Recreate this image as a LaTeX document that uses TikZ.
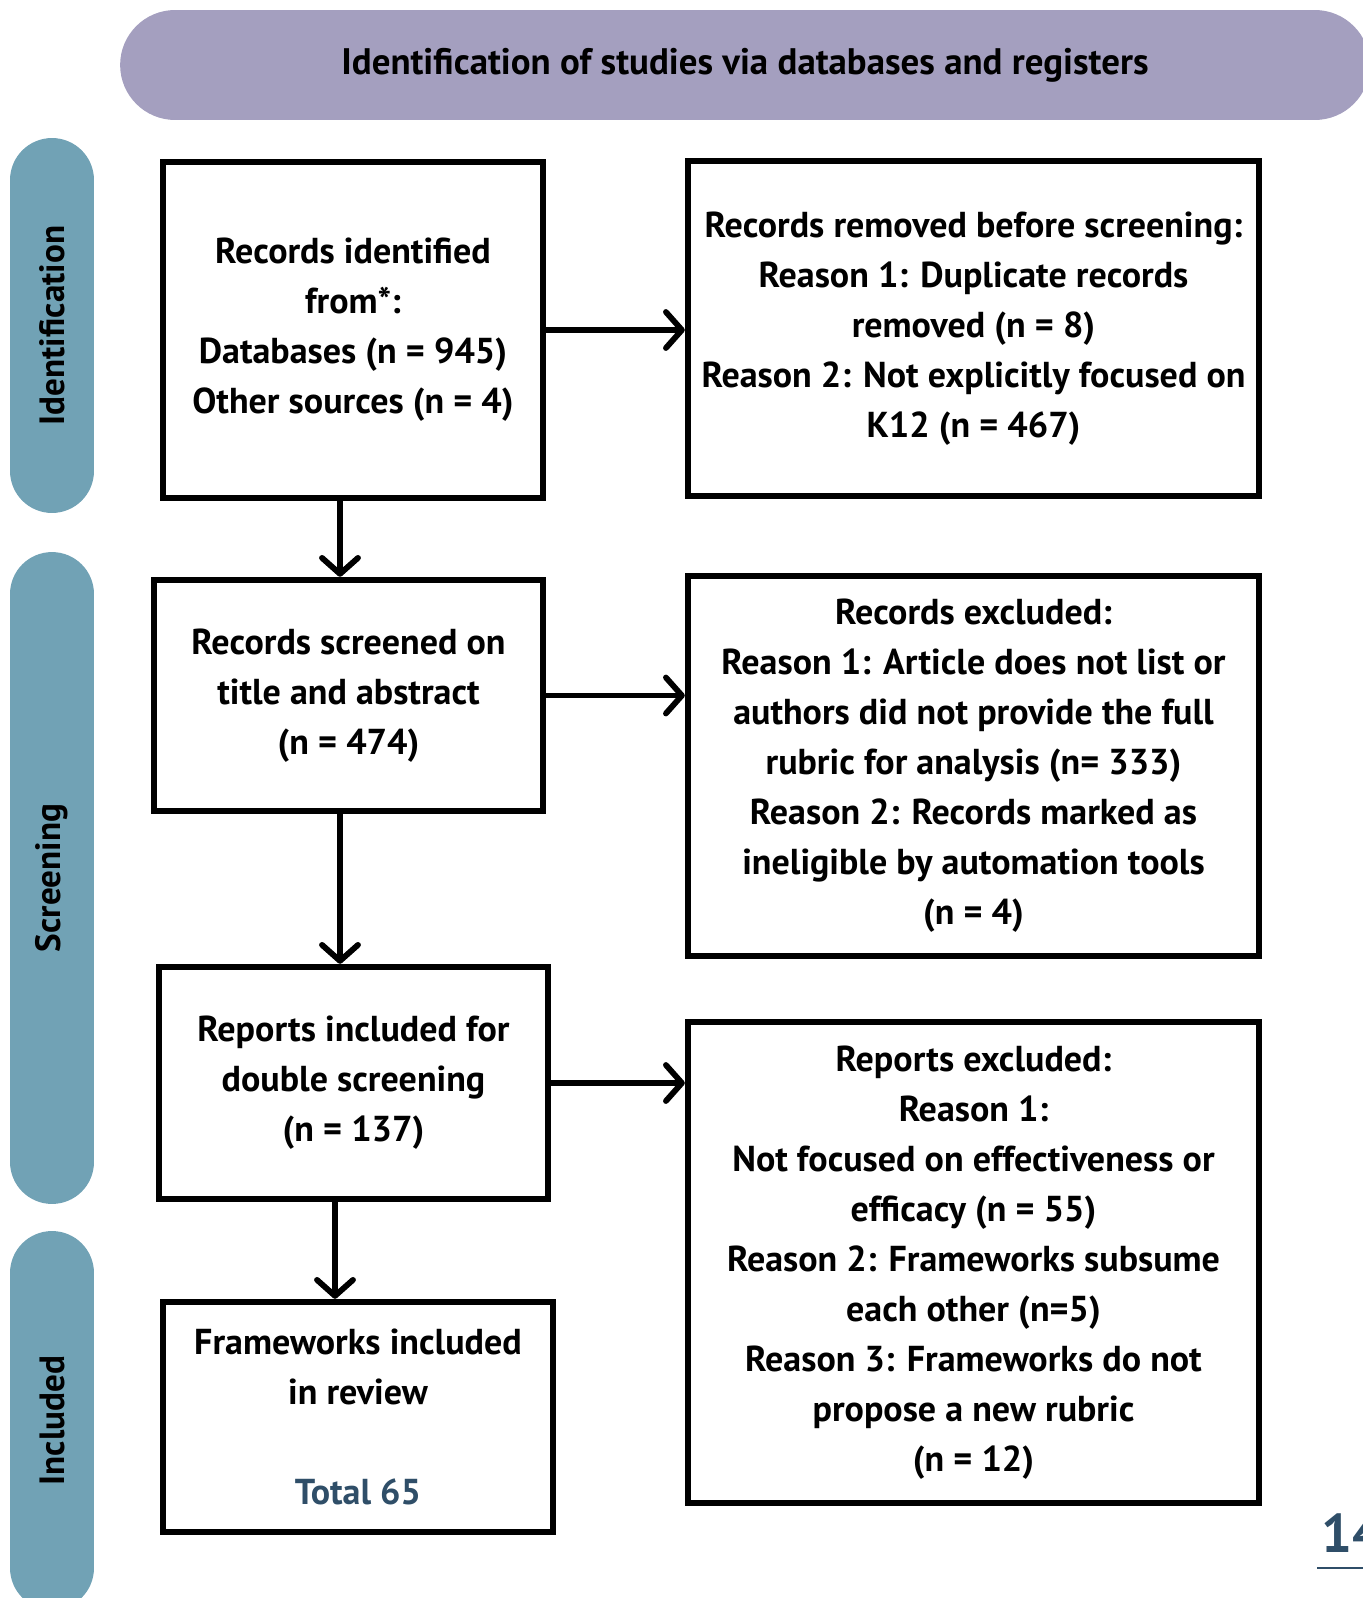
\documentclass[tikz,border=0pt]{standalone}
\usepackage{fontspec}
\setmainfont{PT Sans}
\usetikzlibrary{arrows.meta}
\definecolor{bannerpurple}{HTML}{A49FBF}
\definecolor{stageblue}{HTML}{71A2B5}
\definecolor{totalblue}{HTML}{2F4E68}

\begin{document}
\begin{tikzpicture}[
			x=0.02cm, y=-0.02cm, % one unit is one pixel of the page
			box/.style={draw, line width=3.7pt, align=center, font=\bfseries\fontsize{20.5}{28.45}\selectfont},
			stage/.style={fill=stageblue, rounded corners=0.84cm, rotate=90, minimum height=1.68cm, font=\bfseries\fontsize{20}{22}\selectfont},
			arr/.style={line width=3.3pt, -{Straight Barb[round, length=0.32cm, width=0.72cm]}}
			]
			\useasboundingbox (0,0) rectangle (1362,1598);
			\node[fill=bannerpurple, rounded corners=1.1cm, minimum width=25cm, minimum height=2.2cm, font=\bfseries\fontsize{21}{24}\selectfont] (banner) at (745,65) {Identification of studies via databases and registers};

			\node[stage, minimum width=7.5cm] (identification) at (52,325.5) {Identification};
			\node[stage, minimum width=13.04cm] (screening) at (52,878) {Screening};
			\node[stage, minimum width=7.58cm] (included) at (52,1420.5) {Included};

			\node[box, minimum width=7.6cm, minimum height=6.72cm] (identified) at (353,330) {Records identified\\from*:\\Databases (n = 945)\\Other sources (n = 4)};
			\node[box, minimum width=11.42cm, minimum height=6.7cm] (removed) at (973.5,328.5) {Records removed before screening:\\Reason 1: Duplicate records\\removed (n = 8)\\Reason 2: Not explicitly focused on\\K12 (n = 467)};
			\node[box, minimum width=7.78cm, minimum height=4.62cm] (screened) at (348.5,695.5) {Records screened on\\title and abstract\\(n = 474)};
			\node[box, minimum width=11.42cm, minimum height=7.6cm] (excluded) at (973.5,766) {Records excluded:\\Reason 1: Article does not list or\\authors did not provide the full\\rubric for analysis (n= 333)\\Reason 2: Records marked as\\ineligible by automation tools\\(n = 4)};
			\node[box, minimum width=7.78cm, minimum height=4.64cm] (reports) at (353.5,1083) {Reports included for\\double screening\\(n = 137)};
			\node[box, minimum width=11.42cm, minimum height=9.62cm] (reportsout) at (973.5,1262.5) {Reports excluded:\\Reason 1:\\Not focused on effectiveness or\\efficacy (n = 55)\\Reason 2: Frameworks subsume\\each other (n=5)\\Reason 3: Frameworks do not\\propose a new rubric\\(n = 12)};
			\node[box, minimum width=7.8cm, minimum height=4.6cm] (frameworks) at (358,1417) {Frameworks included\\in review\\[1cm]\textcolor{totalblue}{Total 65}};

			\draw[arr] (identified.east) -- (identified.east -| removed.west);
			\draw[arr] (screened.east) -- (screened.east -| excluded.west);
			\draw[arr] (reports.east) -- (reports.east -| reportsout.west);
			\draw[arr] (identified.south -| 340,0) -- (screened.north -| 340,0);
			\draw[arr] (screened.south -| 340,0) -- (reports.north -| 340,0);
			\draw[arr] (reports.south -| 335,0) -- (frameworks.north -| 335,0);

			\node[text=totalblue, font=\bfseries\fontsize{31}{31}\selectfont, anchor=south west, inner sep=0pt] (page) at (1321,1553) {14};
			\draw[totalblue, line width=1.2pt] (1317,1568) -- (1400,1568);
		\end{tikzpicture}
\end{document}
